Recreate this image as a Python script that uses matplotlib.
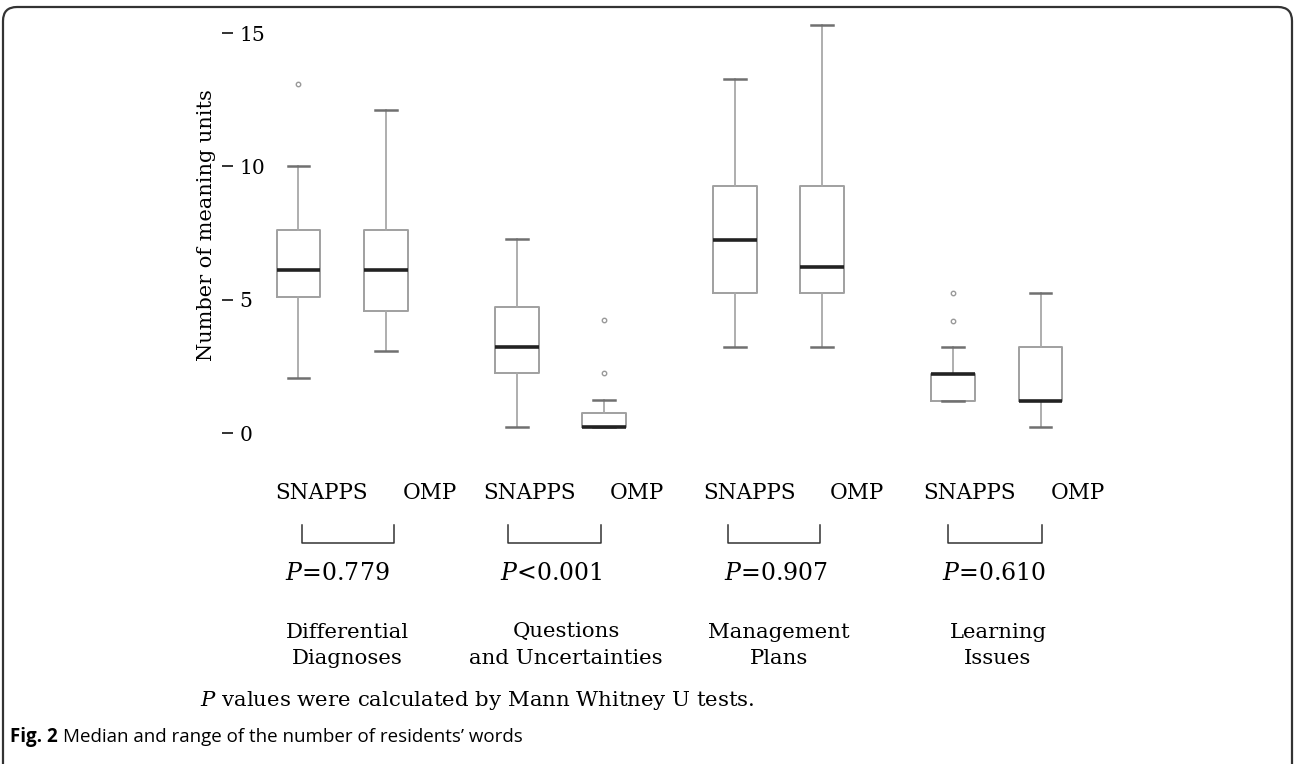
import matplotlib
matplotlib.use("Agg")
import matplotlib.pyplot as plt
from matplotlib.patches import FancyBboxPatch

plt.rcParams['font.family'] = ['DejaVu Serif']
plt.rcParams['mathtext.fontset'] = 'dejavuserif'

# data
groups = ["Differential\nDiagnoses", "Questions\nand Uncertainties",
          "Management\nPlans", "Learning\nIssues"]
pvals = ["$P$=0.779", "$P$<0.001", "$P$=0.907", "$P$=0.610"]

snapps_lo = [2.05, 0.22, 3.22, 1.2]
snapps_q1 = [5.1, 2.25, 5.24, 1.2]
snapps_med = [6.1, 3.22, 7.23, 2.2]
snapps_q3 = [7.6, 4.72, 9.26, 2.2]
snapps_hi = [10.0, 7.27, 13.27, 3.22]
snapps_out = [[13.1], [], [], [4.2, 5.25]]

omp_lo = [3.07, 0.22, 3.22, 0.22]
omp_q1 = [4.57, 0.22, 5.24, 1.2]
omp_med = [6.1, 0.22, 6.23, 1.2]
omp_q3 = [7.6, 0.75, 9.26, 3.22]
omp_hi = [12.1, 1.24, 15.3, 5.25]
omp_out = [[], [2.25, 4.23], [], []]

yticks = [0, 5, 10, 15]

W, H = 1295, 764
fig = plt.figure(figsize=(W / 100, H / 100), dpi=100)

# axes placed in pixels
ax_l, ax_r, ax_t, ax_b = 233, 1100, 20, 441
ax = fig.add_axes([ax_l / W, 1 - ax_b / H, (ax_r - ax_l) / W, (ax_b - ax_t) / H])

stats = []
pos = []
for i in range(len(groups)):
    stats.append(dict(whislo=snapps_lo[i], q1=snapps_q1[i], med=snapps_med[i],
                      q3=snapps_q3[i], whishi=snapps_hi[i], fliers=snapps_out[i]))
    pos.append(i - 0.2)
    stats.append(dict(whislo=omp_lo[i], q1=omp_q1[i], med=omp_med[i],
                      q3=omp_q3[i], whishi=omp_hi[i], fliers=omp_out[i]))
    pos.append(i + 0.2)

ax.bxp(stats, positions=pos, widths=0.2, capwidths=0.1, showfliers=True,
       boxprops=dict(color='#a0a0a0', lw=1.4),
       whiskerprops=dict(color='#a8a8a8', lw=1.3),
       capprops=dict(color='#707070', lw=1.8),
       medianprops=dict(color='#222222', lw=2.6),
       flierprops=dict(marker='o', markersize=3.2, markerfacecolor='none',
                       markeredgecolor='#999999', markeredgewidth=1.0))

ax.set_xlim(-0.5, (ax_r - 343) / 218)
ax.set_ylim(-0.3, 15.49)
for s in ax.spines.values():
    s.set_visible(False)
ax.set_xticks([])
ax.set_yticks(yticks)
ax.tick_params(axis='y', direction='out', length=8, width=1.3, color='#222222',
               labelsize=14.5, pad=-12.5)
for lab in ax.get_yticklabels():
    lab.set_horizontalalignment('left')
ax.set_ylabel("Number of meaning units", fontsize=15, va='center')
ax.yaxis.set_label_coords(-0.03, 0.513)

def fx(px):
    return px / W

def fy(py):
    return 1 - py / H

# labels under the boxes
arm_x = [322, 430, 530, 637, 750, 857, 970, 1078]
arm_names = ["SNAPPS", "OMP"] * 4
for x, name in zip(arm_x, arm_names):
    fig.text(fx(x), fy(493), name, fontsize=15.5, ha='center', va='center')

# brackets
br_x = [(302, 394), (508, 601), (728, 820), (948, 1042)]
for x0, x1 in br_x:
    fig.add_artist(plt.Line2D([fx(x0), fx(x0), fx(x1), fx(x1)],
                              [fy(525), fy(543), fy(543), fy(525)],
                              transform=fig.transFigure, color='#333333', lw=1.1))

p_x = [337, 551, 776, 994]
for x, p in zip(p_x, pvals):
    fig.text(fx(x), fy(574), p, fontsize=17, ha='center', va='center')

grp_x = [347, 566, 779, 998]
for x, g in zip(grp_x, groups):
    top, bottom = g.split("\n")
    fig.text(fx(x), fy(632), top, fontsize=15.3, ha='center', va='center')
    fig.text(fx(x), fy(658), bottom, fontsize=15.3, ha='center', va='center')

fig.text(fx(200), fy(701), "$P$ values were calculated by Mann Whitney U tests.",
         fontsize=15.3, ha='left', va='center')

# caption
cap1 = fig.text(fx(10), fy(737), "Fig. 2", fontsize=13.5, fontweight='bold',
                family='Open Sans', ha='left', va='center')
fig.canvas.draw()
bb = cap1.get_window_extent()
fig.text((bb.x1 + 5) / W, fy(737), "Median and range of the number of residents\u2019 words",
         fontsize=13.5, family='Open Sans', ha='left', va='center')

# rounded frame around the figure
frame = FancyBboxPatch((0.03, -0.2), 12.89, 7.57 + 0.2,
                       boxstyle="round,pad=0,rounding_size=0.14",
                       transform=fig.dpi_scale_trans, fill=False,
                       edgecolor='#333333', lw=1.6)
fig.add_artist(frame)

fig.savefig("out.png", dpi=100)
